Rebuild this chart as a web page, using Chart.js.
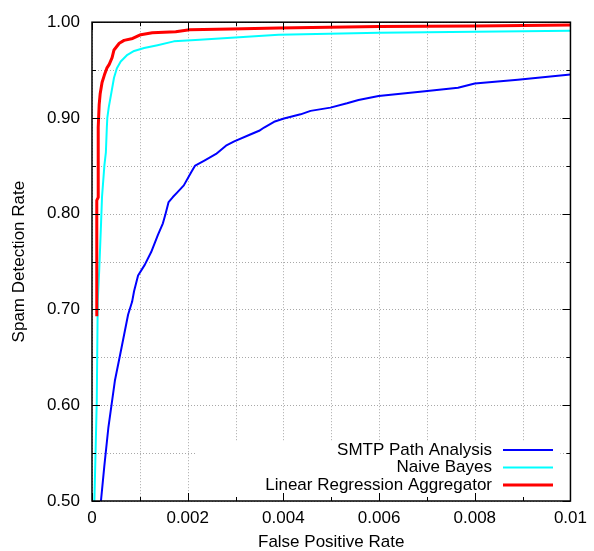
<!DOCTYPE html>
<html>
<head>
<meta charset="utf-8">
<script src="https://cdn.jsdelivr.net/npm/chart.js@4"></script>
<style>
  body { margin: 0; background: white; }
  #wrap { width: 594px; height: 551px; }
</style>
</head>
<body>
<div id="wrap"><canvas id="roc-chart" width="594" height="551"></canvas></div>
<script>
// false positive rate (x) / spam detection rate (y) for each method
const smtpFpr = [0.000187, 0.000256, 0.000343, 0.000478, 0.000617, 0.000755, 0.000838, 0.000879, 0.000963, 0.001102, 0.001237, 0.001378, 0.001482, 0.001538, 0.001601, 0.00169, 0.001788, 0.001919, 0.002073, 0.002156, 0.002349, 0.002593, 0.0028, 0.002973, 0.00332, 0.003493, 0.003597, 0.003805, 0.004012, 0.00436, 0.004568, 0.004983, 0.00533, 0.00557, 0.00599, 0.006958, 0.00765, 0.008, 0.0089, 0.01];
const smtpDetect = [0.500, 0.5356, 0.577, 0.6255, 0.660, 0.6947, 0.708, 0.719, 0.7355, 0.7466, 0.760, 0.778, 0.790, 0.800, 0.8122, 0.8174, 0.8226, 0.8296, 0.8434, 0.8503, 0.8555, 0.8624, 0.871, 0.8755, 0.883, 0.8866, 0.890, 0.896, 0.8994, 0.9038, 0.9074, 0.9108, 0.9153, 0.9188, 0.923, 0.928, 0.9315, 0.936, 0.940, 0.9453];

const bayesFpr = [0.00005, 0.0001, 0.00012, 0.00015, 0.00019, 0.00021, 0.00026, 0.00029, 0.00031, 0.00032, 0.00035, 0.0004, 0.00046, 0.00052, 0.0006, 0.00074, 0.00088, 0.00109, 0.00137, 0.00171, 0.00225, 0.0039, 0.006, 0.01];
const bayesDetect = [0.500, 0.605, 0.709, 0.740, 0.791, 0.818, 0.851, 0.864, 0.890, 0.900, 0.911, 0.925, 0.942, 0.952, 0.959, 0.966, 0.970, 0.973, 0.976, 0.980, 0.9816, 0.9868, 0.989, 0.991];

const lraFpr = [0.0001, 0.0001, 0.0001, 0.00013, 0.00013, 0.00015, 0.00017, 0.00021, 0.00026, 0.00031, 0.00036, 0.00042, 0.00046, 0.00057, 0.00067, 0.00085, 0.00102, 0.00126, 0.00175, 0.00204, 0.0029, 0.0039, 0.006, 0.008, 0.01];
const lraDetect = [0.693, 0.760, 0.814, 0.817, 0.890, 0.914, 0.925, 0.937, 0.945, 0.952, 0.956, 0.963, 0.971, 0.978, 0.981, 0.983, 0.987, 0.989, 0.990, 0.992, 0.993, 0.994, 0.9955, 0.996, 0.997];

const seriesNames = ['SMTP Path Analysis', 'Naive Bayes', 'Linear Regression Aggregator'];

// tick labels (only every second tick gets one)
const xTickLabels = ['0', '0.002', '0.004', '0.006', '0.008', '0.01'];
const yTickLabels = ['0.50', '0.60', '0.70', '0.80', '0.90', '1.00'];

const FONT = 'Liberation Sans, Arial, Helvetica, sans-serif';

function toPoints(xs, ys) {
  return xs.map((x, i) => ({ x: x, y: ys[i] }));
}

// gnuplot style frame: dotted grid, opaque key box, inward ticks on all 4 sides, black border, key
const gnuplotFrame = {
  id: 'gnuplotFrame',
  beforeDatasetsDraw(chart) {
    const ctx = chart.ctx;
    const a = chart.chartArea;
    const xs = chart.scales.x;
    const ys = chart.scales.y;
    ctx.save();
    // dotted grid at every tick (major + minor)
    ctx.strokeStyle = '#a8a8a8';
    ctx.lineWidth = 1;
    ctx.setLineDash([1, 2]);
    xs.ticks.forEach((t) => {
      const px = Math.round(xs.getPixelForValue(t.value)) + 0.5;
      ctx.beginPath();
      ctx.moveTo(px, a.top); ctx.lineTo(px, a.bottom);
      ctx.stroke();
    });
    ys.ticks.forEach((t) => {
      const py = Math.round(ys.getPixelForValue(t.value)) + 0.5;
      ctx.beginPath();
      ctx.moveTo(a.left, py); ctx.lineTo(a.right, py);
      ctx.stroke();
    });
    ctx.setLineDash([]);
    // opaque key box
    ctx.fillStyle = 'white';
    ctx.fillRect(196, 442, a.right - 10 - 196, a.bottom - 442);
    ctx.restore();
  },
  afterDraw(chart) {
    const ctx = chart.ctx;
    const a = chart.chartArea;
    const xs = chart.scales.x;
    const ys = chart.scales.y;
    ctx.save();
    ctx.strokeStyle = 'black';
    ctx.lineWidth = 1;

    // ticks
    xs.ticks.forEach((t, i) => {
      const px = Math.round(xs.getPixelForValue(t.value)) + 0.5;
      const len = i % 2 === 0 ? 8 : 4;
      ctx.beginPath();
      ctx.moveTo(px, a.bottom); ctx.lineTo(px, a.bottom - len);
      ctx.moveTo(px, a.top); ctx.lineTo(px, a.top + len);
      ctx.stroke();
    });
    ys.ticks.forEach((t, i) => {
      const py = Math.round(ys.getPixelForValue(t.value)) + 0.5;
      const len = i % 2 === 0 ? 8 : 4;
      ctx.beginPath();
      ctx.moveTo(a.left, py); ctx.lineTo(a.left + len, py);
      ctx.moveTo(a.right, py); ctx.lineTo(a.right - len, py);
      ctx.stroke();
    });

    // border
    ctx.lineWidth = 1.5;
    ctx.strokeRect(a.left, a.top, a.right - a.left, a.bottom - a.top);

    // key
    ctx.font = '17px ' + FONT;
    ctx.fillStyle = 'black';
    ctx.textAlign = 'right';
    ctx.textBaseline = 'middle';
    const rows = [450, 467.5, 485];
    chart.data.datasets.forEach((ds, i) => {
      ctx.fillText(ds.label, 492, rows[i]);
      ctx.strokeStyle = ds.borderColor;
      ctx.lineWidth = ds.borderWidth;
      ctx.beginPath();
      ctx.moveTo(503, rows[i]);
      ctx.lineTo(553, rows[i]);
      ctx.stroke();
    });
    ctx.restore();
  }
};

const ctx1 = document.getElementById('roc-chart');

new Chart(ctx1, {
  type: 'line',
  data: {
    datasets: [{
      label: seriesNames[0],
      data: toPoints(smtpFpr, smtpDetect),
      borderColor: 'rgb(0, 0, 255)',
      borderWidth: 2,
      order: 3
    }, {
      label: seriesNames[1],
      data: toPoints(bayesFpr, bayesDetect),
      borderColor: 'rgb(0, 255, 255)',
      borderWidth: 2,
      order: 2
    }, {
      label: seriesNames[2],
      data: toPoints(lraFpr, lraDetect),
      borderColor: 'rgb(255, 0, 0)',
      borderWidth: 3,
      order: 1
    }]
  },
  options: {
    responsive: false,
    animation: false,
    layout: {
      padding: { top: 19, right: 21, left: 0, bottom: 0 }
    },
    elements: {
      point: { radius: 0 },
      line: { tension: 0, fill: false, borderJoinStyle: 'round' }
    },
    scales: {
      x: {
        type: 'linear',
        min: 0,
        max: 0.01,
        afterFit: (scale) => { scale.height = 50; },
        ticks: {
          stepSize: 0.001,
          autoSkip: false,
          maxRotation: 0,
          padding: 7,
          color: 'black',
          font: { family: FONT, size: 17 },
          callback: (value, index) => index % 2 === 0 ? xTickLabels[index / 2] : ''
        },
        grid: { display: false, drawTicks: false },
        border: { display: false },
        title: {
          display: true,
          text: 'False Positive Rate',
          color: 'black',
          font: { family: FONT, size: 17, lineHeight: 1 },
          padding: { top: 0, bottom: 0.5 }
        }
      },
      y: {
        type: 'linear',
        min: 0.5,
        max: 1.0,
        afterFit: (scale) => { scale.width = 92; },
        ticks: {
          stepSize: 0.05,
          autoSkip: false,
          padding: 12,
          color: 'black',
          font: { family: FONT, size: 17 },
          callback: (value, index) => index % 2 === 0 ? yTickLabels[index / 2] : ''
        },
        grid: { display: false, drawTicks: false },
        border: { display: false },
        title: {
          display: true,
          text: 'Spam Detection Rate',
          color: 'black',
          font: { family: FONT, size: 17, lineHeight: 1 },
          padding: { top: 10.5, bottom: 0 }
        }
      }
    },
    plugins: {
      legend: { display: false },
      tooltip: { enabled: false }
    }
  },
  plugins: [gnuplotFrame]
});
</script>
</body>
</html>
